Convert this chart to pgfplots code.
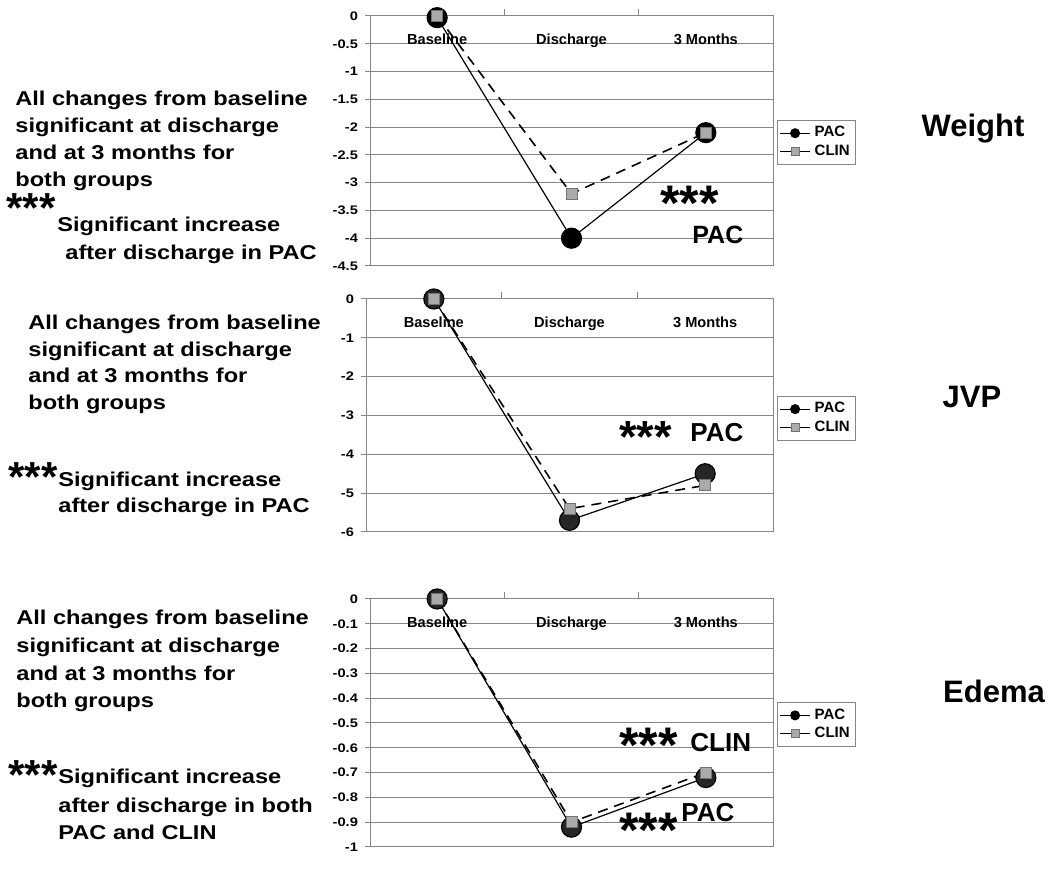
\documentclass[border=0pt]{standalone}
\usepackage{fontspec}
\setmainfont{Liberation Sans}
\newfontfamily\wfont{Liberation Sans}[FakeStretch=1.18]
\usepackage{pgfplots}
\pgfplotsset{compat=1.18}

\definecolor{gridgray}{RGB}{134,134,134}
\definecolor{clinfill}{RGB}{170,170,170}
\definecolor{clinedge}{RGB}{115,115,115}
\definecolor{pacdark}{RGB}{38,38,38}

\newcommand\lt{\wfont\bfseries\fontsize{10}{12}\selectfont}
% box of the asterisks trimmed to the glyphs, so that anchor=west is their middle
\newcommand\stars[1]{\bfseries\fontsize{#1}{#1}\selectfont\raisebox{-0.3em}[0.42em][0pt]{***}}

\pgfplotsset{
  excel/.style={
    scale only axis,
    anchor=north west,
    clip=false,
    xmin=-0.5, xmax=2.5,
    xtick={0,1,2},
    xticklabels={Baseline,Discharge,3 Months},
    xticklabel pos=upper,
    xtick pos=upper,
    major x tick style={draw=none},
    minor xtick={0.5,1.5},
    minor tick length=3.5pt,
    xticklabel style={font=\bfseries\fontsize{7.3}{8}\selectfont, anchor=base, yshift=-17pt},
    ytick pos=left,
    tick align=outside,
    major tick length=2.5pt,
    ymajorgrids,
    grid style={gridgray, line width=0.5pt},
    axis line style={gridgray, line width=0.5pt},
    tick style={gridgray, line width=0.5pt},
    yticklabel style={font=\wfont\bfseries\fontsize{6.2}{7}\selectfont, xshift=0pt},
    legend style={at={(1,0.584)}, anchor=north west, xshift=2pt,
      draw=gridgray, line width=0.5pt,
      font=\bfseries\fontsize{7.5}{8}\selectfont,
      inner xsep=1pt, inner ysep=1pt, row sep=-1.5pt,
      cells={anchor=west}},
    legend image code/.code={\draw[mark repeat=2,mark phase=2,##1]
      plot coordinates {(0pt,0pt) (7.5pt,0pt) (15pt,0pt)};},
  },
  pac/.style={black, line width=0.6pt, mark=*, mark size=5pt,
    mark options={solid, fill=#1, draw=black}},
  clin/.style={black, line width=0.8pt, dash pattern=on 5pt off 3.5pt,
    mark=square*, mark size=2.75pt,
    mark options={solid, fill=clinfill, draw=clinedge, line width=0.4pt}},
}

\newcommand\leg{%
  \addlegendimage{black, line width=0.6pt, mark=*, mark size=2.2pt, mark options={fill=black}}
  \addlegendentry{PAC}
  \addlegendimage{black, line width=0.6pt, mark=square*, mark size=2pt, mark options={fill=clinfill, draw=clinedge}}
  \addlegendentry{CLIN}}

\begin{document}
\begin{tikzpicture}
\useasboundingbox (0pt,0pt) rectangle (525pt,435pt);

% Weight
\begin{axis}[excel, at={(185pt,427pt)}, width=201.5pt, height=125pt,
  ymin=-4.5, ymax=0,
  ytick={-4.5,-4,-3.5,-3,-2.5,-2,-1.5,-1,-0.5,0},
  yticklabels={-4.5,-4,-3.5,-3,-2.5,-2,-1.5,-1,-0.5,0}]
\addplot[pac=black, forget plot] coordinates {(0,-0.03) (1,-4.0) (2,-2.1)};
\addplot[clin, forget plot] coordinates {(0,0) (1,-3.2) (2,-2.1)};
\leg
\end{axis}

% JVP
\begin{axis}[excel, at={(183pt,285.5pt)}, width=203.5pt, height=116.5pt,
  ymin=-6, ymax=0,
  ytick={-6,-5,-4,-3,-2,-1,0},
  yticklabels={-6,-5,-4,-3,-2,-1,0}]
\addplot[pac=pacdark, forget plot] coordinates {(0,0) (1,-5.7) (2,-4.5)};
\addplot[clin, forget plot] coordinates {(0,0) (1,-5.4) (2,-4.8)};
\leg
\end{axis}

% Edema
\begin{axis}[excel, at={(185pt,135.5pt)}, width=201.5pt, height=124pt,
  ymin=-1, ymax=0,
  ytick={-1,-0.9,-0.8,-0.7,-0.6,-0.5,-0.4,-0.3,-0.2,-0.1,0},
  yticklabels={-1,-0.9,-0.8,-0.7,-0.6,-0.5,-0.4,-0.3,-0.2,-0.1,0}]
\addplot[pac=pacdark, forget plot] coordinates {(0,0) (1,-0.92) (2,-0.72)};
\addplot[clin, forget plot] coordinates {(0,0) (1,-0.9) (2,-0.7)};
\leg
\end{axis}

% texts, placed in pixel units of the reference (y downwards)
\begin{scope}[shift={(0pt,435pt)}, x=0.5pt, y=-0.5pt,
  every node/.style={inner sep=0pt, anchor=base west}]
% panel 1
\node at (15,106) {\lt All changes from baseline};
\node at (15,133) {\lt significant at discharge};
\node at (15,160) {\lt and at 3 months for};
\node at (15,187) {\lt both groups};
\node[anchor=west] at (6,201.5) {\stars{21}};
\node at (57,232) {\lt Significant increase};
\node at (65,260) {\lt after discharge in PAC};
\node[anchor=west] at (660,195) {\stars{25}};
\node at (692,244) {\bfseries\fontsize{12.5}{14}\selectfont PAC};
\node[anchor=base] at (973,137) {\bfseries\fontsize{15.5}{18}\selectfont Weight};
% panel 2
\node at (28,330) {\lt All changes from baseline};
\node at (28,357) {\lt significant at discharge};
\node at (28,383) {\lt and at 3 months for};
\node at (28,410) {\lt both groups};
\node[anchor=west] at (8,470) {\stars{21}};
\node at (58,487) {\lt Significant increase};
\node at (58,513) {\lt after discharge in PAC};
\node[anchor=west] at (619,430) {\stars{22.5}};
\node at (690,442) {\bfseries\fontsize{13}{15}\selectfont PAC};
\node[anchor=base] at (972,408) {\bfseries\fontsize{15.5}{18}\selectfont JVP};
% panel 3
\node at (16,625) {\lt All changes from baseline};
\node at (16,653) {\lt significant at discharge};
\node at (16,681) {\lt and at 3 months for};
\node at (16,708) {\lt both groups};
\node[anchor=west] at (8,768.5) {\stars{21}};
\node at (58,784) {\lt Significant increase};
\node at (58,813) {\lt after discharge in both};
\node at (58,840) {\lt PAC and CLIN};
\node[anchor=west] at (619,737.5) {\stars{25}};
\node at (690,752) {\bfseries\fontsize{13}{15}\selectfont CLIN};
\node[anchor=west] at (619,822.5) {\stars{25}};
\node at (681,822) {\bfseries\fontsize{13}{15}\selectfont PAC};
\node[anchor=base] at (994,703) {\bfseries\fontsize{15.5}{18}\selectfont Edema};
\end{scope}
\end{tikzpicture}
\end{document}
